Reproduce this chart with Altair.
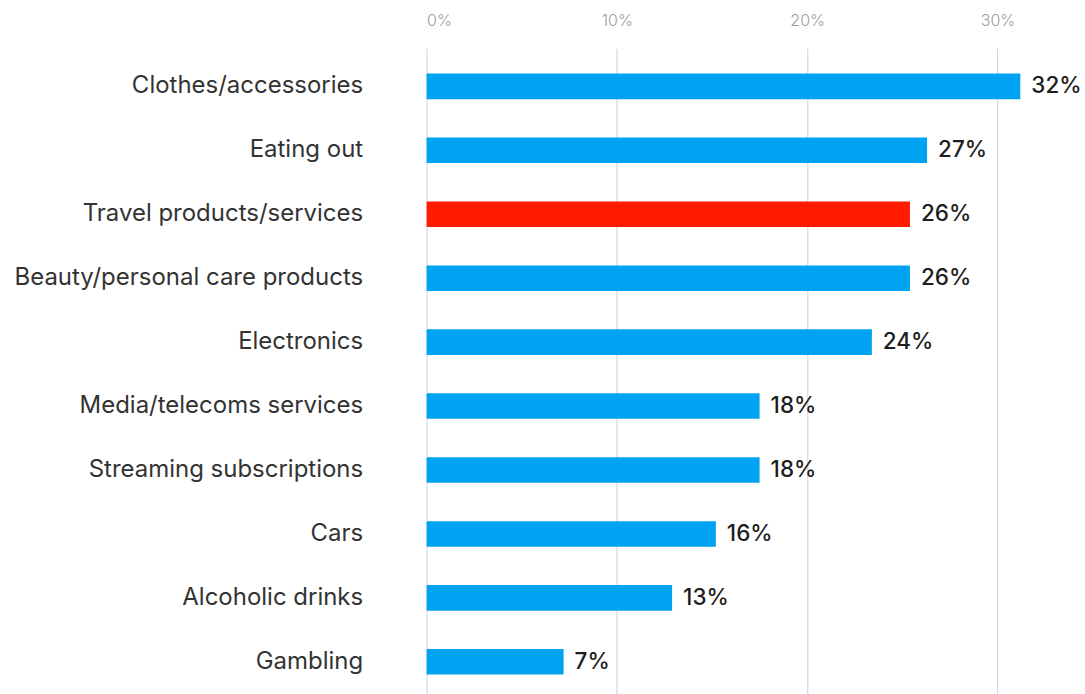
import altair as alt
import pandas as pd

categories = ["Clothes/accessories", "Eating out", "Travel products/services",
              "Beauty/personal care products", "Electronics", "Media/telecoms services",
              "Streaming subscriptions", "Cars", "Alcoholic drinks", "Gambling"]
values = [31.2, 26.3, 25.4, 25.4, 23.4, 17.5, 17.5, 15.2, 12.9, 7.2]
labels = ["32%", "27%", "26%", "26%", "24%", "18%", "18%", "16%", "13%", "7%"]
highlight = [False, False, True, False, False, False, False, False, False, False]
ticks = [0, 10, 20, 30]

df = pd.DataFrame({"cat": categories, "val": values, "lab": labels, "hi": highlight})

FONT = "Inter"

y = alt.Y("cat:N", sort=categories, title=None,
          scale=alt.Scale(paddingInner=0.6, paddingOuter=0.347, align=0.57),
          axis=alt.Axis(domain=False, ticks=False, labelPadding=64, labelFontSize=24,
                        labelColor="#333333", labelFont=FONT, labelFontWeight=400,
                        labelLimit=500))
x = alt.X("val:Q", title=None,
          scale=alt.Scale(domain=[0, 34.6], nice=False),
          axis=alt.Axis(orient="top", values=ticks, format=".0f", labelExpr="datum.label + '%'",
                        domain=False, ticks=False, labelPadding=20, labelFontSize=16,
                        labelColor="#9c9c9c", labelFont=FONT, labelFontWeight=300,
                        grid=True, gridColor="#d4d8e6", gridWidth=1.2))

bars = alt.Chart(df).mark_bar().encode(
    x=x, y=y,
    color=alt.Color("hi:N", scale=alt.Scale(domain=[False, True], range=["#00a3f2", "#ff1a00"]),
                    legend=None),
)
text = alt.Chart(df).mark_text(align="left", baseline="middle", dx=11, fontSize=22.5,
                               font=FONT, fontWeight=500, color="#1e1e1e").encode(
    x="val:Q", y=alt.Y("cat:N", sort=categories), text="lab:N")

chart = (bars + text).properties(
    width=659, height=646,
    background="white",
    autosize=alt.AutoSizeParams(type="none"),
    padding={"left": 427, "top": 48, "right": 0, "bottom": 0},
).configure_view(stroke=None)

chart.save("out.html", embed_options={"renderer": "svg", "actions": False})
